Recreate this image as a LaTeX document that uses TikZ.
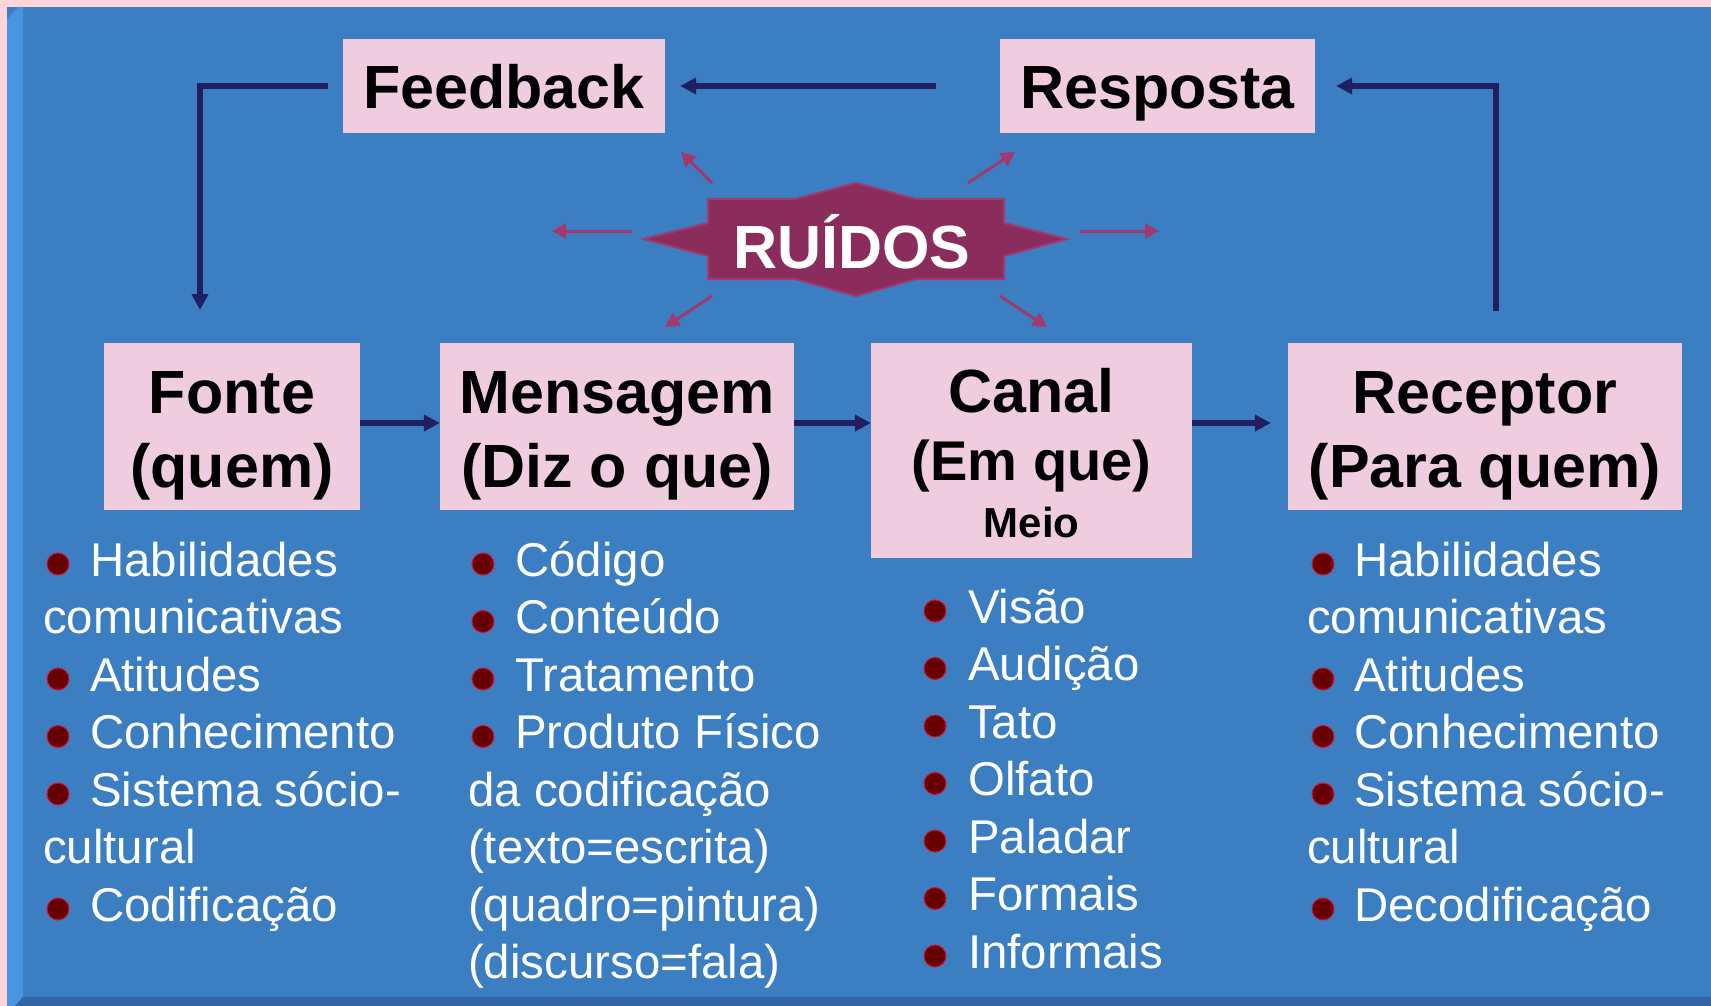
\documentclass[tikz,border=0pt]{standalone}
\usepackage{fontspec}
\setmainfont{Liberation Sans}
\usetikzlibrary{arrows.meta}
\definecolor{pagepink}{HTML}{FFD5DB}
\definecolor{panel}{HTML}{3B7FC2}
\definecolor{bevelL}{HTML}{4A95E0}
\definecolor{bevelB}{HTML}{2F66A3}
\definecolor{boxpink}{HTML}{F0CCDF}
\definecolor{navy}{HTML}{1F1F62}
\definecolor{noise}{HTML}{8B2D5C}
\definecolor{noiseedge}{HTML}{A3386E}
\definecolor{dotfill}{HTML}{660000}
\definecolor{dotedge}{HTML}{D0103A}
\tikzset{
  box/.style={fill=boxpink, draw=none, inner sep=0pt, align=center, text=black,
    font=\fontsize{61}{74}\selectfont\bfseries},
  item/.style={anchor=base west, inner sep=0pt, text=white,
    font=\fontsize{47.4}{57.5}\selectfont},
  dot/.style={fill=dotfill, draw=dotedge, line width=1pt},
  flow/.style={draw=navy, line width=5.5pt, -{Triangle[length=16pt,width=16pt]}},
  noisearrow/.style={draw=noiseedge, line width=3pt, -{Triangle[length=14pt,width=15pt]}},
}
\begin{document}
\begin{tikzpicture}[x=1pt,y=-1pt]
\useasboundingbox (0,0) rectangle (1711,1006);
% background panel
\fill[pagepink] (0,0) rectangle (1711,1006);
\fill[panel] (7,7) rectangle (1711,1006);
\fill[bevelL] (7,19) -- (19,7) -- (23,7) -- (23,997) -- (15,1006) -- (7,1006) -- cycle;
\fill[bevelB] (23,997) -- (1711,997) -- (1711,1006) -- (15,1006) -- cycle;

% boxes
\node[box, minimum width=322pt, minimum height=94pt] (feedback) at (504,86)
  {\rule{0pt}{62pt}Feedback\rule[-16pt]{0pt}{0pt}};
\node[box, minimum width=315pt, minimum height=94pt] (resposta) at (1157.5,86)
  {\rule{0pt}{62pt}Resposta\rule[-16pt]{0pt}{0pt}};
\node[box, minimum width=256pt, minimum height=167pt] (fonte) at (232,426.5)
  {\rule{0pt}{62pt}Fonte\\(quem)\rule[-15pt]{0pt}{0pt}};
\node[box, minimum width=354pt, minimum height=167pt] (mensagem) at (617,426.5)
  {\rule{0pt}{62pt}Mensagem\\(Diz o que)\rule[-15pt]{0pt}{0pt}};
\node[box, minimum width=321pt, minimum height=215pt] (canal) at (1031.5,450.5)
  {\rule{0pt}{62pt}Canal\\[-6pt]{\fontsize{56}{68}\selectfont(Em que)}\\[-17pt]{\fontsize{42}{50}\selectfont Meio}\rule[-13pt]{0pt}{0pt}};
\node[box, minimum width=394pt, minimum height=167pt] (receptor) at (1485,426.5)
  {\rule{0pt}{62pt}Receptor\\(Para quem)\rule[-15pt]{0pt}{0pt}};

% main flow
\coordinate (row) at (0,423);
\coordinate (fbdown) at (200,310);
\coordinate (rcol) at (1496,0);
\draw[flow] (fonte.east |- row) -- (mensagem.west |- row);
\draw[flow] (mensagem.east |- row) -- (canal.west |- row);
\draw[flow, shorten >=17pt] (canal.east |- row) -- (receptor.west |- row);
\draw[flow, shorten <=32pt, shorten >=21pt] (receptor.north -| rcol) |- (resposta.east);
\draw[flow, shorten <=64pt, shorten >=15pt] (resposta.west) -- (feedback.east);
\draw[flow, shorten <=15pt] (feedback.west) -| (fbdown);

% noise
\draw[fill=noise, draw=noiseedge, line width=2pt]
  (644,239) -- (708,223) -- (708,199) -- (795,199) -- (856,183) -- (916,199)
  -- (1004,199) -- (1004,223) -- (1067,239) -- (1004,256) -- (1004,279) -- (916,279)
  -- (856,296) -- (795,279) -- (708,279) -- (708,256) -- cycle;
\node[anchor=base, inner sep=0pt, text=white, font=\fontsize{61}{72}\selectfont\bfseries]
  (ruidos) at (852,268) {RUÍDOS};
\coordinate (nula) at (712,183);  \coordinate (nulb) at (681,152);
\coordinate (nura) at (968,183);  \coordinate (nurb) at (1015,152);
\coordinate (nla) at (632,231);   \coordinate (nlb) at (552,231);
\coordinate (nra) at (1080,231);  \coordinate (nrb) at (1159,231);
\coordinate (nlla) at (712,296);  \coordinate (nllb) at (665,327);
\coordinate (nlra) at (1000,296); \coordinate (nlrb) at (1047,327);
\draw[noisearrow] (nula) -- (nulb);
\draw[noisearrow] (nura) -- (nurb);
\draw[noisearrow] (nla) -- (nlb);
\draw[noisearrow] (nra) -- (nrb);
\draw[noisearrow] (nlla) -- (nllb);
\draw[noisearrow] (nlra) -- (nlrb);

% lists
\foreach \bl/\tx [count=\i] in {1/Habilidades,0/comunicativas,1/Atitudes,1/Conhecimento,1/Sistema sócio-,0/cultural,1/Codificação}{
  \pgfmathsetmacro{\yy}{576+57.5*(\i-1)}
  \ifnum\bl=1
    \node[item] (fon\i) at (90,\yy) {\tx};
    \path[dot] (58,\yy-12) circle (11pt);
  \else
    \node[item] (fon\i) at (43,\yy) {\tx};
  \fi
}
\foreach \bl/\tx [count=\i] in {1/Código,1/Conteúdo,1/Tratamento,1/Produto Físico,0/da codificação,0/(texto=escrita),0/(quadro=pintura),0/(discurso=fala)}{
  \pgfmathsetmacro{\yy}{576+57.5*(\i-1)}
  \ifnum\bl=1
    \node[item] (men\i) at (515,\yy) {\tx};
    \path[dot] (483,\yy-12) circle (11pt);
  \else
    \node[item] (men\i) at (468,\yy) {\tx};
  \fi
}
\foreach \tx [count=\i] in {Visão,Audição,Tato,Olfato,Paladar,Formais,Informais}{
  \pgfmathsetmacro{\yy}{623+57.5*(\i-1)}
  \node[item] (can\i) at (968,\yy) {\tx};
  \path[dot] (935,\yy-12) circle (11pt);
}
\foreach \bl/\tx [count=\i] in {1/Habilidades,0/comunicativas,1/Atitudes,1/Conhecimento,1/Sistema sócio-,0/cultural,1/Decodificação}{
  \pgfmathsetmacro{\yy}{576+57.5*(\i-1)}
  \ifnum\bl=1
    \node[item] (rec\i) at (1354,\yy) {\tx};
    \path[dot] (1323,\yy-12) circle (11pt);
  \else
    \node[item] (rec\i) at (1307,\yy) {\tx};
  \fi
}
\end{tikzpicture}
\end{document}
